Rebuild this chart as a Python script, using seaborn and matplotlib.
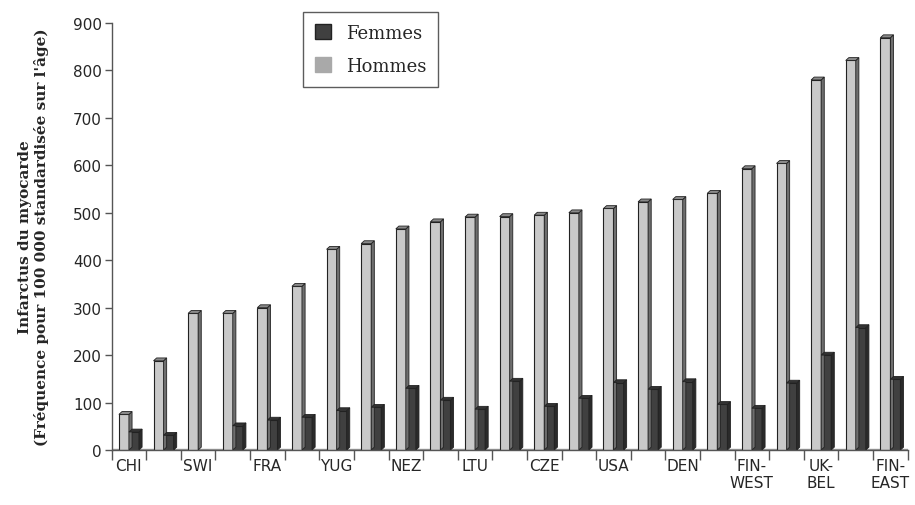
import numpy as np
import pandas as pd
import matplotlib
matplotlib.use("Agg")
import matplotlib.pyplot as plt
from matplotlib.patches import Polygon, Patch
import seaborn as sns

# data (23 countries / regions, ordered by men's rate)
group_id = list(range(23))
hommes = [75, 188, 288, 288, 300, 345, 423, 435, 466, 481, 491, 492, 495,
          500, 509, 523, 528, 541, 593, 604, 780, 821, 869]
femmes = [38, 31, 0, 51, 63, 69, 83, 90, 130, 105, 86, 145, 92,
          109, 142, 128, 144, 96, 88, 141, 200, 258, 149]
tick_labels = ["CHI", "SWI", "FRA", "YUG", "NEZ", "LTU", "CZE", "USA", "DEN",
               "FIN-\nWEST", "UK-\nBEL", "FIN-\nEAST"]
tick_pos = list(range(0, 23, 2))

df = pd.DataFrame({
    "groupe": group_id * 2,
    "sexe": ["Hommes"] * 23 + ["Femmes"] * 23,
    "valeur": hommes + femmes,
})

front = {"Hommes": "#c9c9c9", "Femmes": "#404040"}
side = {"Hommes": "#6e6e6e", "Femmes": "#2a2a2a"}
top = {"Hommes": "#8a8a8a", "Femmes": "#333333"}

sns.set_style("white")
fig = plt.figure(figsize=(9.15, 5.06), dpi=100)
ax = fig.add_axes([0.122, 0.1087, 0.870, 0.8439])

sns.barplot(data=df, x="groupe", y="valeur", hue="sexe",
            hue_order=["Hommes", "Femmes"], palette=front, width=0.58,
            gap=0, edgecolor="#222222", linewidth=0.8, saturation=1,
            legend=False, ax=ax)

# fake 3D: side and top faces on each bar
dx, dy = 0.09, 6
for i, p in enumerate(ax.patches):
    h = p.get_height()
    if not h or np.isnan(h):
        continue
    key = "Hommes" if i < 23 else "Femmes"
    x0, w = p.get_x(), p.get_width()
    x1 = x0 + w
    ax.add_patch(Polygon([(x1, 0), (x1 + dx, dy), (x1 + dx, h + dy), (x1, h)],
                         closed=True, facecolor=side[key], edgecolor="#222222",
                         linewidth=0.6, zorder=p.get_zorder()))
    ax.add_patch(Polygon([(x0, h), (x0 + dx, h + dy), (x1 + dx, h + dy), (x1, h)],
                         closed=True, facecolor=top[key], edgecolor="#222222",
                         linewidth=0.6, zorder=p.get_zorder()))

ax.axhline(dy * 0.5, color="#9a9a9a", linewidth=1.0, zorder=0)

ax.set_xlim(-0.5, 22.5)
ax.set_ylim(0, 900)
ax.set_yticks(range(0, 901, 100))
ax.set_xticks(tick_pos)
ax.set_xticklabels(tick_labels, fontsize=11, linespacing=1.1)
ax.set_xticks(np.arange(-0.5, 23, 1), minor=True)
ax.tick_params(axis="x", which="major", length=0, pad=6)
ax.tick_params(axis="x", which="minor", length=7, width=1, color="#555555",
               direction="out", bottom=True)
ax.tick_params(axis="y", length=5, width=1, color="#555555", direction="out",
               left=True, labelsize=11, pad=2)
for s in ["top", "right"]:
    ax.spines[s].set_visible(False)
for s in ["left", "bottom"]:
    ax.spines[s].set_color("#555555")
    ax.spines[s].set_linewidth(1.0)
ax.set_xlabel("")
ax.set_ylabel("Infarctus du myocarde\n(Fréquence pour 100 000 standardisée sur l'âge)",
              fontsize=11, fontweight="bold", family="DejaVu Serif",
              linespacing=1.15, labelpad=17)

handles = [Patch(facecolor="#404040", edgecolor="#222222", label="Femmes"),
           Patch(facecolor="#a9a9a9", edgecolor="#a9a9a9", label="Hommes")]
leg = fig.legend(handles=handles, loc="upper left",
                 bbox_to_anchor=(303 / 915, 1 - 13 / 506), borderaxespad=0,
                 prop={"family": "DejaVu Serif", "size": 13},
                 frameon=True, fancybox=False, edgecolor="#333333",
                 handlelength=0.9, handleheight=0.9, handletextpad=0.85,
                 borderpad=0.65, labelspacing=0.85)
leg.get_frame().set_linewidth(1.0)

fig.savefig("out.png", dpi=100)
